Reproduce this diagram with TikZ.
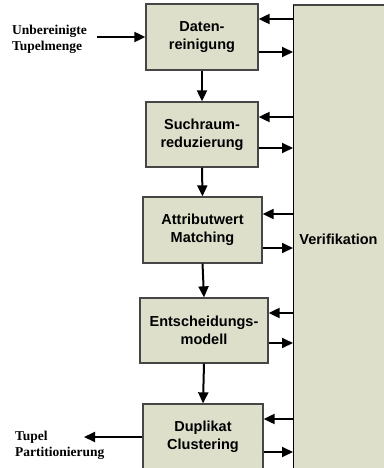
\documentclass[tikz,border=0pt]{standalone}
\usepackage{fontspec}
\setmainfont{Liberation Serif}
\newfontfamily\boxfont{Liberation Sans}
\usetikzlibrary{arrows.meta}
\definecolor{boxfill}{RGB}{221,223,203}
\definecolor{boxline}{RGB}{70,70,70}
\tikzset{
  procbox/.style={draw=boxline, line width=1.3pt, fill=boxfill, align=center,
    font=\boxfont\bfseries\fontsize{14.5}{18}\selectfont, inner sep=0pt},
  sidelabel/.style={align=left, inner sep=0pt,
    font=\bfseries\fontsize{13.5}{16}\selectfont},
  arr/.style={line width=2pt, -{Triangle[length=11pt,width=10pt]}},
}
\begin{document}
\begin{tikzpicture}[x=1pt,y=-1pt]
\useasboundingbox (0,0) rectangle (383,468);
% Verification box
\fill[boxfill] (293,5) rectangle (400,480);
\draw[boxline, line width=1.6pt] (293,5) -- (400,5);
\draw[black, line width=1pt] (293,5) -- (293,480);
\node[font=\boxfont\bfseries\fontsize{14.5}{18}\selectfont, inner sep=0pt] (verif) at (338.5,239) {Verifikation};
\coordinate (vl) at (293,0);
% process boxes
\node[procbox, minimum width=112pt, minimum height=66pt] (b1) at (202,37) {Daten-\\reinigung};
\node[procbox, minimum width=112pt, minimum height=65pt] (b2) at (202,134.5) {Suchraum-\\reduzierung};
\node[procbox, minimum width=119pt, minimum height=66pt] (b3) at (202.5,230) {Attributwert\\Matching};
\node[procbox, minimum width=128pt, minimum height=65pt] (b4) at (204,330.5) {Entscheidungs-\\modell};
\node[procbox, minimum width=120pt, minimum height=66pt] (b5) at (203,437) {Duplikat\\Clustering};
% vertical flow
\draw[arr] (b1.south) -- (b2.north);
\draw[arr] (b2.south) -- (b3.north);
\draw[arr] (b3.south) -- (b4.north);
\draw[arr] (b4.south) -- (b5.north);
% side labels
\node[sidelabel, anchor=west] (in) at (12,39) {Unbereinigte\\Tupelmenge};
\node[sidelabel, anchor=west] (out) at (15,445) {Tupel\\Partitionierung};
\coordinate (inS) at (97,37);
\coordinate (outE) at (84,437);
\draw[arr] (inS) -- (b1.west);
\draw[arr] (b5.west) -- (outE);
% verification arrows
\draw[arr] (vl |- 0,19) -- (b1.east |- 0,19);
\draw[arr] (b1.east |- 0,52) -- (vl |- 0,52);
\draw[arr] (vl |- 0,117) -- (b2.east |- 0,117);
\draw[arr] (b2.east |- 0,148) -- (vl |- 0,148);
\draw[arr] (vl |- 0,214) -- (b3.east |- 0,214);
\draw[arr] (b3.east |- 0,248) -- (vl |- 0,248);
\draw[arr] (vl |- 0,313) -- (b4.east |- 0,313);
\draw[arr] (b4.east |- 0,343) -- (vl |- 0,343);
\draw[arr] (vl |- 0,419) -- (b5.east |- 0,419);
\draw[arr] (b5.east |- 0,452) -- (vl |- 0,452);
\end{tikzpicture}
\end{document}
